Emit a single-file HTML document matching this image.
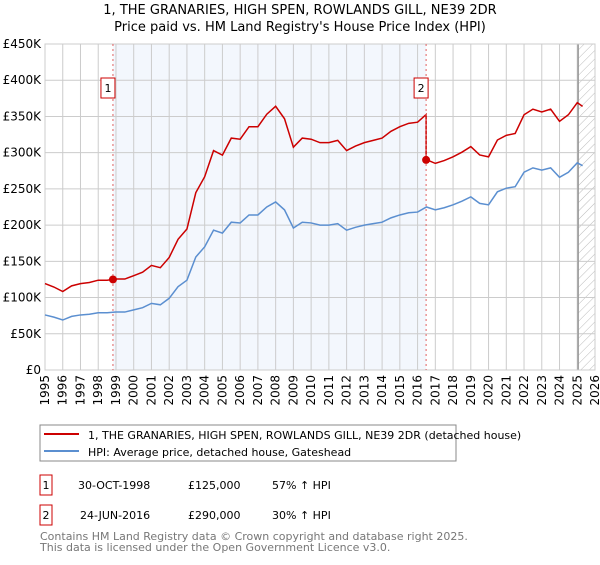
<!DOCTYPE html>
<html><head><meta charset="utf-8"><style>
body{margin:0;background:#fff;font-family:"Liberation Sans","DejaVu Sans",sans-serif}
svg text{font-family:"DejaVu Sans","Liberation Sans",sans-serif}
</style></head><body>
<svg id="chart" width="600" height="560" viewBox="0 0 600 560" xmlns="http://www.w3.org/2000/svg">
<defs><pattern id="hatch" width="6" height="6" patternUnits="userSpaceOnUse" patternTransform="rotate(45)"><line x1="0" y1="0" x2="0" y2="6" stroke="#bbb" stroke-width="1"/></pattern></defs>
<text x="300" y="14" font-size="13" text-anchor="middle">1, THE GRANARIES, HIGH SPEN, ROWLANDS GILL, NE39 2DR</text>
<text x="300" y="31" font-size="13" text-anchor="middle">Price paid vs. HM Land Registry's House Price Index (HPI)</text>
<g id="plot"></g>
<rect x="40" y="425" width="416" height="36" fill="#fff" stroke="#888"/>
<line x1="44" y1="434" x2="79" y2="434" stroke="#cc0000" stroke-width="2"/>
<text x="88" y="439" font-size="11">1, THE GRANARIES, HIGH SPEN, ROWLANDS GILL, NE39 2DR (detached house)</text>
<line x1="44" y1="451" x2="79" y2="451" stroke="#5b8fd0" stroke-width="2"/>
<text x="88" y="456" font-size="11">HPI: Average price, detached house, Gateshead</text>
<rect x="40" y="475" width="12" height="20" fill="#fff" stroke="#cc0000"/>
<text x="46" y="489" font-size="11" text-anchor="middle">1</text>
<text x="78" y="489" font-size="11">30-OCT-1998</text>
<text x="188" y="489" font-size="11">£125,000</text>
<text x="272" y="489" font-size="11">57% ↑ HPI</text>
<rect x="40" y="505" width="12" height="20" fill="#fff" stroke="#cc0000"/>
<text x="46" y="519" font-size="11" text-anchor="middle">2</text>
<text x="80" y="519" font-size="11">24-JUN-2016</text>
<text x="188" y="519" font-size="11">£290,000</text>
<text x="272" y="519" font-size="11">30% ↑ HPI</text>
<text x="40" y="540" font-size="11" fill="#777">Contains HM Land Registry data © Crown copyright and database right 2025.</text>
<text x="40" y="551" font-size="11" fill="#777">This data is licensed under the Open Government Licence v3.0.</text>
</svg>
<script>
const hpiYears=[1995,1995.5,1996,1996.5,1997,1997.5,1998,1998.5,1999,1999.5,2000,2000.5,2001,2001.5,2002,2002.5,2003,2003.5,2004,2004.5,2005,2005.5,2006,2006.5,2007,2007.5,2008,2008.5,2009,2009.5,2010,2010.5,2011,2011.5,2012,2012.5,2013,2013.5,2014,2014.5,2015,2015.5,2016,2016.5,2017,2017.5,2018,2018.5,2019,2019.5,2020,2020.5,2021,2021.5,2022,2022.5,2023,2023.5,2024,2024.5,2025,2025.3];
const hpiValues=[76000,73000,69000,74000,76000,77000,79000,79000,80000,80000,83000,86000,92000,90000,99000,115000,124000,156000,170000,193000,189000,204000,203000,214000,214000,225000,232000,221000,196000,204000,203000,200000,200000,202000,193000,197000,200000,202000,204000,210000,214000,217000,218000,225000,221000,224000,228000,233000,239000,230000,228000,246000,251000,253000,273000,279000,276000,279000,266000,273000,286000,282000];
const saleDates=[1998.83,2016.48];
const salePrices=[125000,290000];
const yTicks=[0,50000,100000,150000,200000,250000,300000,350000,400000,450000];
const yTickLabels=["£0","£50K","£100K","£150K","£200K","£250K","£300K","£350K","£400K","£450K"];
const xTicks=[1995,1996,1997,1998,1999,2000,2001,2002,2003,2004,2005,2006,2007,2008,2009,2010,2011,2012,2013,2014,2015,2016,2017,2018,2019,2020,2021,2022,2023,2024,2025,2026];

const X0=45,X1=595,Y0=370,Y1=44;
const x=t=>X0+(t-1995)/31*(X1-X0);
const y=v=>Y0-v/450000*(Y0-Y1);
const NS="http://www.w3.org/2000/svg";
const g=document.getElementById('plot');
function mk(tag,attrs){const e=document.createElementNS(NS,tag);for(const k in attrs)e.setAttribute(k,attrs[k]);g.appendChild(e);return e;}
function hpiAt(t){for(let i=0;i<hpiYears.length-1;i++){if(t<=hpiYears[i+1]){const f=(t-hpiYears[i])/(hpiYears[i+1]-hpiYears[i]);return hpiValues[i]+f*(hpiValues[i+1]-hpiValues[i]);}}return hpiValues[hpiValues.length-1];}

let r=mk('rect',{x:x(saleDates[0]),y:Y1,width:x(saleDates[1])-x(saleDates[0]),height:Y0-Y1,fill:'#eef3fc',opacity:0.7});


let h=mk('rect',{x:x(2025.05),y:Y1,width:X1-x(2025.05),height:Y0-Y1,fill:'url(#hatch)'});


yTicks.forEach((v,i)=>{
  let l=mk('line',{x1:X0,x2:X1,y1:y(v),y2:y(v),stroke:'#ccc'});
  
  
  let t=mk('text',{x:X0-4,y:y(v)+4,'font-size':12,'text-anchor':'end'});t.textContent=yTickLabels[i];
  
  
});
xTicks.forEach(yr=>{
  let l=mk('line',{x1:x(yr),x2:x(yr),y1:Y1,y2:Y0,stroke:'#ccc'});
  
  
  const tx=x(yr)+4,ty=Y0+5;
  let t=mk('text',{x:tx,y:ty,'font-size':12,'text-anchor':'end',transform:'rotate(-90 '+tx+' '+ty+')'});t.textContent=yr;
  
  
});
let fl=mk('line',{x1:x(2025.05),x2:x(2025.05),y1:Y1,y2:Y0,stroke:'#999','stroke-width':1.5});


let fr=mk('rect',{x:X0,y:Y1,width:X1-X0,height:Y0-Y1,fill:'none',stroke:'#ccc'});


let hp=mk('polyline',{points:hpiYears.map((t,i)=>x(t)+','+y(hpiValues[i])).join(' '),fill:'none',stroke:'#5b8fd0','stroke-width':1.5});


const r1=salePrices[0]/hpiAt(saleDates[0]),r2=salePrices[1]/hpiAt(saleDates[1]);
let pts=[];
hpiYears.forEach((t,i)=>{if(t<saleDates[1])pts.push([t,hpiValues[i]*r1]);});
pts.push([saleDates[1],hpiAt(saleDates[1])*r1]);
pts.push([saleDates[1],salePrices[1]]);
hpiYears.forEach((t,i)=>{if(t>saleDates[1])pts.push([t,hpiValues[i]*r2]);});
let pp=mk('polyline',{points:pts.map(p=>x(p[0])+','+y(p[1])).join(' '),fill:'none',stroke:'#cc0000','stroke-width':1.5});


saleDates.forEach((d,i)=>{
  let v=mk('line',{x1:x(d),x2:x(d),y1:Y1,y2:Y0,stroke:'#e06060','stroke-dasharray':'2,3'});
  
  
  let c=mk('circle',{cx:x(d),cy:y(salePrices[i]),r:4,fill:'#cc0000'});
  
  
  let b=mk('rect',{x:x(d)-12,y:78,width:14,height:20,fill:'#fff',stroke:'#cc0000'});
  
  
  let t=mk('text',{x:x(d)-5,y:92,'font-size':11,'text-anchor':'middle'});t.textContent=String(i+1);
  
  
});
</script>
</body></html>
